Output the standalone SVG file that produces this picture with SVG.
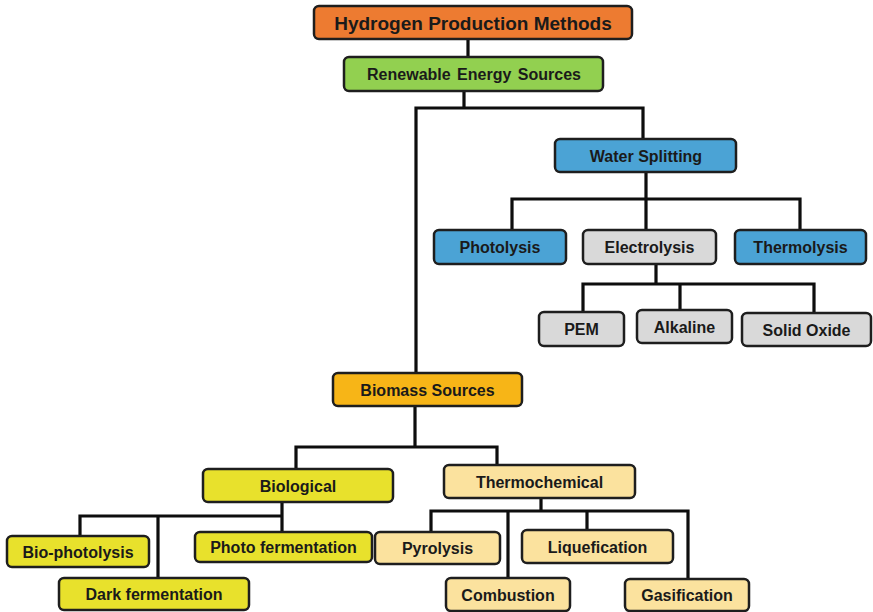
<svg xmlns="http://www.w3.org/2000/svg" width="873" height="612" viewBox="0 0 873 612">
<style>
.n rect{stroke:#1e1e1e;stroke-width:2.5}
.n text{font-family:"Liberation Sans",Arial,sans-serif;font-weight:bold;font-size:16px;fill:#1a1a1a;text-anchor:middle;dominant-baseline:central}
.c path{fill:none;stroke:#0d0d0d;stroke-width:3.2;stroke-linejoin:miter;stroke-linecap:square}
</style>
<rect width="873" height="612" fill="#ffffff"/>
<g id="connectors" class="c">
<path d="M468 39V57"/>
<path d="M464 91V108M416 108H643V139M416 108V373"/>
<path d="M646 172V199M512 199H800M512 199V230M646 199V230M800 199V230"/>
<path d="M656 264V284M583 284H814M583 284V312M680 284V310M814 284V313"/>
<path d="M415 406V447M296 447H497M296 447V469M497 447V465"/>
<path d="M282 502V516M80 516H282M80 516V536M158 516V578M282 516V532"/>
<path d="M541 498V511M431 511H688M431 511V532M508 511V578M587 511V530M688 511V579"/>
</g>
<g id="hydrogen" class="n"><rect x="314" y="6" width="318" height="33" rx="5" fill="#ED7B31"/><text x="473" y="23" style="font-size:19px">Hydrogen Production Methods</text></g>
<g id="renewable" class="n"><rect x="344" y="57" width="259" height="34" rx="5" fill="#92D050"/><text x="474" y="74.5" style="word-spacing:2px">Renewable Energy Sources</text></g>
<g id="water" class="n"><rect x="555" y="139" width="181" height="33" rx="5" fill="#4BA3D5"/><text x="646" y="156">Water Splitting</text></g>
<g id="photolysis" class="n"><rect x="434" y="230" width="132" height="34" rx="5" fill="#4BA3D5"/><text x="500" y="247.5">Photolysis</text></g>
<g id="electrolysis" class="n"><rect x="583" y="230" width="133" height="34" rx="5" fill="#D9D9D9"/><text x="649.5" y="247.5">Electrolysis</text></g>
<g id="thermolysis" class="n"><rect x="735" y="230" width="131" height="34" rx="5" fill="#4BA3D5"/><text x="800.5" y="247.5">Thermolysis</text></g>
<g id="pem" class="n"><rect x="539" y="312" width="85" height="34" rx="5" fill="#D9D9D9"/><text x="581.5" y="329">PEM</text></g>
<g id="alkaline" class="n"><rect x="637" y="310" width="95" height="33" rx="5" fill="#D9D9D9"/><text x="684.5" y="327">Alkaline</text></g>
<g id="solid-oxide" class="n"><rect x="742" y="313" width="129" height="33" rx="5" fill="#D9D9D9"/><text x="806.5" y="330">Solid Oxide</text></g>
<g id="biomass" class="n"><rect x="333" y="373" width="189" height="33" rx="5" fill="#F7B517"/><text x="427.5" y="390">Biomass Sources</text></g>
<g id="biological" class="n"><rect x="203" y="469" width="190" height="33" rx="5" fill="#E8E12C"/><text x="298" y="486">Biological</text></g>
<g id="thermochemical" class="n"><rect x="444" y="465" width="191" height="33" rx="5" fill="#FBE29E"/><text x="539.5" y="482">Thermochemical</text></g>
<g id="bio-photolysis" class="n"><rect x="7" y="536" width="142" height="31" rx="5" fill="#E8E12C"/><text x="78" y="552">Bio-photolysis</text></g>
<g id="photo-fermentation" class="n"><rect x="195" y="532" width="177" height="30" rx="5" fill="#E8E12C"/><text x="283.5" y="547.5">Photo fermentation</text></g>
<g id="dark-fermentation" class="n"><rect x="59" y="578" width="190" height="32" rx="5" fill="#E8E12C"/><text x="154" y="594.5">Dark fermentation</text></g>
<g id="pyrolysis" class="n"><rect x="375" y="532" width="125" height="32" rx="5" fill="#FBE29E"/><text x="437.5" y="548.5">Pyrolysis</text></g>
<g id="liquefication" class="n"><rect x="522" y="530" width="151" height="33" rx="5" fill="#FBE29E"/><text x="597.5" y="547">Liquefication</text></g>
<g id="combustion" class="n"><rect x="446" y="578" width="124" height="33" rx="5" fill="#FBE29E"/><text x="508" y="595">Combustion</text></g>
<g id="gasification" class="n"><rect x="625" y="579" width="124" height="32" rx="5" fill="#FBE29E"/><text x="687" y="595.5">Gasification</text></g>
</svg>
